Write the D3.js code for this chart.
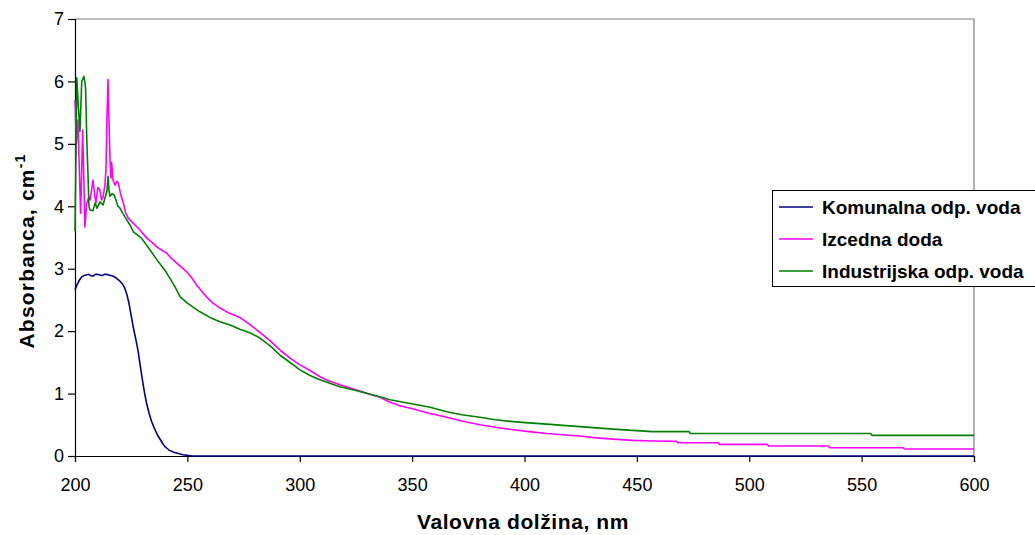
<!DOCTYPE html>
<html>
<head>
<meta charset="utf-8">
<script src="https://cdn.jsdelivr.net/npm/d3@7"></script>
<style>
  html, body { margin: 0; padding: 0; background: #fff; }
  svg { display: block; font-family: "Liberation Sans", Arial, sans-serif; }
</style>
</head>
<body>
<svg id="chart" width="1035" height="535"></svg>
<script>
// UV absorbance spectra: [wavelength nm, absorbance cm^-1]
const komunalna = [
  [200,2.66],[201,2.75],[202,2.82],[203,2.87],[204,2.89],[205,2.9],[206,2.91],[207,2.89],[208,2.88],
  [209,2.91],[210,2.91],[211,2.9],[212,2.89],[213,2.91],[214,2.91],[215,2.9],[216,2.89],[217,2.88],
  [218,2.86],[219,2.83],[220,2.8],[221,2.76],[222,2.7],[223,2.6],[224,2.45],[225,2.25],[226,2.05],
  [227,1.88],[228,1.7],[229,1.45],[230,1.22],[231,1.0],[232,0.82],[233,0.68],[234,0.56],[235,0.47],
  [236,0.39],[237,0.32],[238,0.26],[239,0.2],[240,0.15],[241,0.12],[242,0.09],[244,0.06],[246,0.04],
  [248,0.02],[250,0.01],[252,0],[600,0]
];

const izcedna = [
  [200,5.7],[200.6,5.0],[201.3,5.38],[202,4.5],[202.5,3.89],[203,4.6],[203.4,5.22],[203.9,4.5],
  [204.4,3.67],[205.2,4.05],[206.2,4.15],[206.7,4.1],[207.5,4.3],[208,4.42],[208.7,4.2],[209.3,4.05],
  [210.2,4.3],[211.1,4.26],[211.8,4.1],[212.5,4.15],[213.3,4.34],[213.8,4.6],[214.2,5.38],[214.7,6.03],
  [215.1,5.38],[215.6,4.74],[216,4.45],[216.3,4.7],[216.9,4.42],[217.8,4.34],[218.6,4.4],[219.3,4.37],
  [220.2,4.21],[221.5,4.05],[222.5,3.9],[223.7,3.81],[225.9,3.73],[228.9,3.62],[231.9,3.49],[234,3.43],
  [236.4,3.35],[238.5,3.3],[240.8,3.25],[243,3.16],[245.3,3.09],[247.5,3.02],[249.7,2.95],[252,2.85],
  [254.1,2.74],[257.8,2.58],[261,2.46],[264.5,2.37],[268,2.3],[273.4,2.22],[278,2.1],[282.3,1.98],
  [287,1.84],[291.4,1.69],[296,1.56],[300.1,1.46],[304.6,1.37],[309,1.27],[313,1.2],[317.9,1.14],
  [325,1.06],[331.3,0.99],[335.7,0.94],[340.2,0.86],[345,0.8],[351,0.75],[358,0.68],[365.4,0.62],
  [372,0.56],[380.2,0.5],[387,0.46],[395,0.42],[402,0.39],[409.9,0.36],[417,0.34],[424.7,0.32],
  [432,0.29],[439.5,0.27],[448,0.25],[457,0.24],[467.7,0.235],[468.3,0.213],[486.1,0.213],[486.7,0.187],
  [508,0.187],[508.6,0.16],[535.2,0.16],[535.8,0.133],[568.5,0.133],[569,0.112],[600,0.112]
];

const industrijska = [
  [200,3.6],[200.5,5.0],[200.8,6.06],[201.5,5.6],[202.2,5.2],[203,6.0],[204,6.08],[204.7,5.9],
  [205.3,5.0],[205.8,4.48],[206.2,4.0],[206.7,3.94],[208,3.93],[208.9,4.05],[209.8,3.97],[211.1,4.07],
  [212.5,4.02],[213.3,4.13],[214.2,4.24],[214.7,4.48],[215.1,4.26],[215.6,4.16],[216.5,4.2],[217.4,4.18],
  [218.2,4.1],[219.1,4.0],[220,3.97],[222.2,3.83],[224.5,3.7],[226,3.59],[229.6,3.49],[233.4,3.30],
  [237.1,3.11],[240.5,2.95],[244.5,2.71],[246.8,2.55],[250,2.45],[255.6,2.31],[260,2.22],[264.5,2.15],
  [269,2.1],[273.4,2.03],[278,1.97],[282.3,1.89],[287,1.76],[291.4,1.61],[296,1.49],[300.1,1.38],
  [304.6,1.29],[309,1.22],[313,1.17],[317.9,1.11],[325,1.05],[331.3,0.99],[335.7,0.95],[340.2,0.9],
  [346,0.86],[351,0.83],[358,0.78],[365.4,0.71],[372,0.66],[380.2,0.62],[387,0.58],[395,0.55],
  [402,0.53],[409.9,0.51],[417,0.49],[424.7,0.47],[432,0.45],[439.5,0.43],[448,0.41],[457,0.39],
  [473.2,0.39],[473.8,0.36],[554,0.36],[554.6,0.33],[600,0.33]
];

const seriesNames = ["Komunalna odp. voda", "Izcedna doda", "Industrijska odp. voda"];
const seriesColors = ["#000080", "#ff00ff", "#008000"];
const xTicks = [200, 250, 300, 350, 400, 450, 500, 550, 600];
const yTicks = [0, 1, 2, 3, 4, 5, 6, 7];

const svg = d3.select("#chart");
const plot = { left: 75, right: 974, top: 19, bottom: 456 };

const x = d3.scaleLinear().domain([200, 600]).range([plot.left, plot.right]);
const y = d3.scaleLinear().domain([0, 7]).range([plot.bottom, plot.top]);

// plot-area frame (top and right edges in grey)
svg.append("path")
  .attr("d", `M${plot.left},${plot.top}H${plot.right}V${plot.bottom}`)
  .attr("fill", "none").attr("stroke", "#808080").attr("stroke-width", 1.2);

// axes
const xAxis = svg.append("g").attr("transform", `translate(0,${plot.bottom})`)
  .call(d3.axisBottom(x).tickValues(xTicks).tickSize(6).tickPadding(16).tickFormat(d3.format("d")));
const yAxis = svg.append("g").attr("transform", `translate(${plot.left},0)`)
  .call(d3.axisLeft(y).tickValues(yTicks).tickSize(7).tickPadding(4).tickFormat(d3.format("d")));

[xAxis, yAxis].forEach(g => {
  g.select(".domain").attr("stroke", "#000").attr("stroke-width", 1.2);
  g.selectAll(".tick line").attr("stroke", "#000").attr("stroke-width", 1.2);
  g.selectAll(".tick text").attr("fill", "#000").attr("font-size", 18)
    .attr("font-family", '"Liberation Sans", Arial, sans-serif');
});

// spectra
const line = d3.line().x(d => x(d[0])).y(d => y(d[1]));
const allSeries = [komunalna, izcedna, industrijska];
const drawOrder = [1, 2, 0];
drawOrder.forEach(i => {
  svg.append("path")
    .datum(allSeries[i])
    .attr("d", line)
    .attr("fill", "none")
    .attr("stroke", seriesColors[i])
    .attr("stroke-width", 1.6)
    .attr("stroke-linejoin", "round");
});

// axis titles
svg.append("text")
  .attr("x", 523).attr("y", 529)
  .attr("text-anchor", "middle")
  .attr("font-size", 21).attr("font-weight", "bold").attr("letter-spacing", 0.6)
  .text("Valovna dolžina, nm");

const yTitle = svg.append("text")
  .attr("transform", "translate(34,251) rotate(-90)")
  .attr("text-anchor", "middle")
  .attr("font-size", 21).attr("font-weight", "bold").attr("letter-spacing", 1.2);
yTitle.append("tspan").text("Absorbanca, cm");
yTitle.append("tspan").attr("font-size", 14).attr("dy", -9).text("-1");

// legend
const legend = svg.append("g");
legend.append("rect")
  .attr("x", 772.5).attr("y", 190.5).attr("width", 300).attr("height", 96)
  .attr("fill", "#fff").attr("stroke", "#000").attr("stroke-width", 1);
const rowY = [207, 239, 271];
seriesNames.forEach((name, i) => {
  legend.append("line")
    .attr("x1", 779).attr("x2", 813).attr("y1", rowY[i]).attr("y2", rowY[i])
    .attr("stroke", seriesColors[i]).attr("stroke-width", 1.6);
  legend.append("text")
    .attr("x", 822).attr("y", rowY[i]).attr("dy", "0.36em")
    .attr("font-size", 19).attr("font-weight", "bold")
    .text(name);
});
</script>
</body>
</html>
